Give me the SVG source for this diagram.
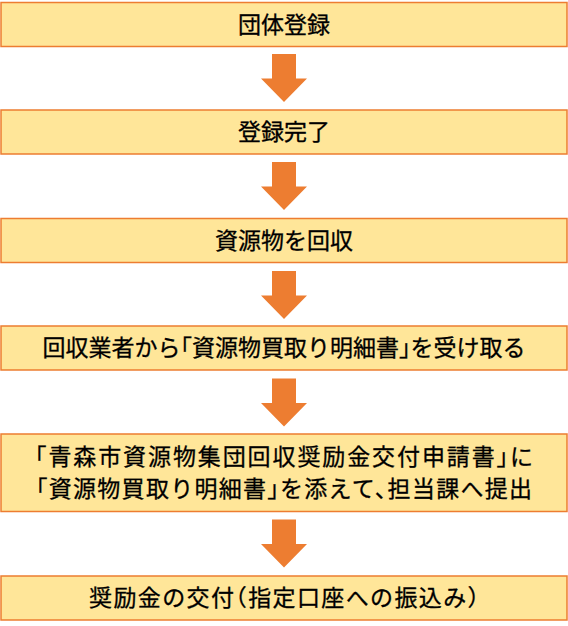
<svg xmlns="http://www.w3.org/2000/svg" width="568" height="626" viewBox="0 0 568 626">
<style>
.box{fill:#FFE699;stroke:#ED7D31;stroke-width:1.5}
.arrow{fill:#ED7D31}
text{font-family:"Noto Sans CJK JP","Noto Sans CJK SC",sans-serif;font-size:23px;fill:#000;text-anchor:middle;font-feature-settings:"halt";stroke:#000;stroke-width:0.3}
</style>
<rect width="568" height="626" fill="#fff"/>
<g id="connectors">
<polygon class="arrow" points="272,54 296,54 296,78.5 307,78.5 284,102 261,78.5 272,78.5"/>
<polygon class="arrow" points="272,162 296,162 296,186.5 307,186.5 284,210 261,186.5 272,186.5"/>
<polygon class="arrow" points="272,271 296,271 296,295.5 307,295.5 284,319 261,295.5 272,295.5"/>
<polygon class="arrow" points="272,378.5 296,378.5 296,403 307,403 284,426.5 261,403 272,403"/>
<polygon class="arrow" points="272,519.5 296,519.5 296,544 307,544 284,567.5 261,544 272,544"/>
</g>
<g id="node1"><rect class="box" x="1" y="2.5" width="566" height="44"/><text x="284" y="32.5">団体登録</text></g>
<g id="node2"><rect class="box" x="1" y="110" width="566" height="44"/><text x="284" y="140">登録完了</text></g>
<g id="node3"><rect class="box" x="1" y="218.5" width="566" height="44"/><text x="284" y="248.5">資源物を回収</text></g>
<g id="node4"><rect class="box" x="1" y="326" width="566" height="44"/><text x="284" y="356">回収業者から「資源物買取り明細書」を受け取る</text></g>
<g id="node5"><rect class="box" x="1" y="434" width="566" height="77.5"/><text x="284" y="465" textLength="498" lengthAdjust="spacing">「青森市資源物集団回収奨励金交付申請書」に</text><text x="284" y="496.5" textLength="496" lengthAdjust="spacing">「資源物買取り明細書」を添えて、担当課へ提出</text></g>
<g id="node6"><rect class="box" x="1" y="576" width="566" height="44"/><text x="284" y="606" textLength="390" lengthAdjust="spacing">奨励金の交付（指定口座への振込み）</text></g>
</svg>
